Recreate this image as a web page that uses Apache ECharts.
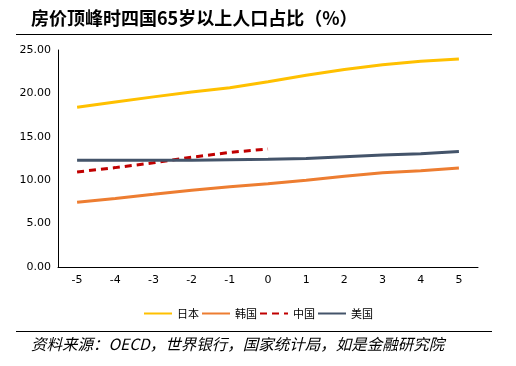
<!DOCTYPE html>
<html><head><meta charset="utf-8">
<script src="https://cdn.jsdelivr.net/npm/echarts@6/dist/echarts.min.js"></script>
<style>html,body{margin:0;padding:0;background:#fff}#c{width:516px;height:366px}</style>
</head><body><div id="c"></div>
<script>
var categories = ['-5','-4','-3','-2','-1','0','1','2','3','4','5'];
var japan = [18.4, 19.0, 19.6, 20.15, 20.65, 21.35, 22.1, 22.75, 23.3, 23.7, 23.95];
var korea = [7.45, 7.9, 8.37, 8.85, 9.25, 9.6, 10.0, 10.45, 10.85, 11.1, 11.4];
var china = [10.95, 11.45, 12.0, 12.65, 13.2, 13.6];
var usa = [12.3, 12.3, 12.3, 12.3, 12.35, 12.4, 12.5, 12.7, 12.9, 13.05, 13.3];
var yTicks = [0, 5, 10, 15, 20, 25];
var names = ['日本','韩国','中国','美国'];
var chart = echarts.init(document.getElementById('c'));
var cjk = '"Noto Sans CJK SC", sans-serif';
function line(name, data, color, dashed) {
  return {name: name, type: 'line', data: data, symbol: 'none', smooth: false,
    lineStyle: {color: color, width: 3, type: dashed ? [7, 5] : 'solid'},
    itemStyle: {color: color}};
}
chart.setOption({
  animation: false,
  title: {text: '房价顶峰时四国65岁以上人口占比（%）', left: 26, top: 4,
    textStyle: {fontFamily: cjk, fontWeight: 'bold', fontSize: 18, color: '#000'}},
  graphic: [
    {type: 'line', shape: {x1: 16, y1: 34.5, x2: 492, y2: 34.5}, style: {stroke: '#000', lineWidth: 1}},
    {type: 'line', shape: {x1: 16, y1: 331.5, x2: 492, y2: 331.5}, style: {stroke: '#000', lineWidth: 1}},
    {type: 'text', left: 31, top: 336, style: {text: '资料来源：OECD，世界银行，国家统计局，如是金融研究院',
      font: 'italic 15.5px "Noto Sans CJK SC"', fill: '#000'}}
  ],
  legend: {data: names, top: 303, left: 'center', itemWidth: 28, itemHeight: 10, itemGap: 2,
    itemStyle: {opacity: 0},
    textStyle: {fontFamily: cjk, fontSize: 11, color: '#000'}},
  grid: {left: 58, right: 38, top: 50, bottom: 99, containLabel: false},
  xAxis: {type: 'category', data: categories, boundaryGap: true,
    axisLine: {lineStyle: {color: '#000', width: 1}}, axisTick: {show: false},
    axisLabel: {color: '#000', fontFamily: 'Verdana, "DejaVu Sans", sans-serif', fontSize: 11, margin: 8}},
  yAxis: {type: 'value', min: 0, max: 25, interval: 5,
    axisLine: {show: true, lineStyle: {color: '#000', width: 1}}, axisTick: {show: false},
    splitLine: {show: false},
    axisLabel: {color: '#000', fontFamily: 'Verdana, "DejaVu Sans", sans-serif', fontSize: 11, margin: 7,
      formatter: function (v) { return v.toFixed(2); }}},
  series: [
    line(names[0], japan, '#FFC000', false),
    line(names[1], korea, '#ED7D31', false),
    line(names[2], china, '#C00000', true),
    line(names[3], usa, '#44546A', false)
  ]
});
</script></body></html>
